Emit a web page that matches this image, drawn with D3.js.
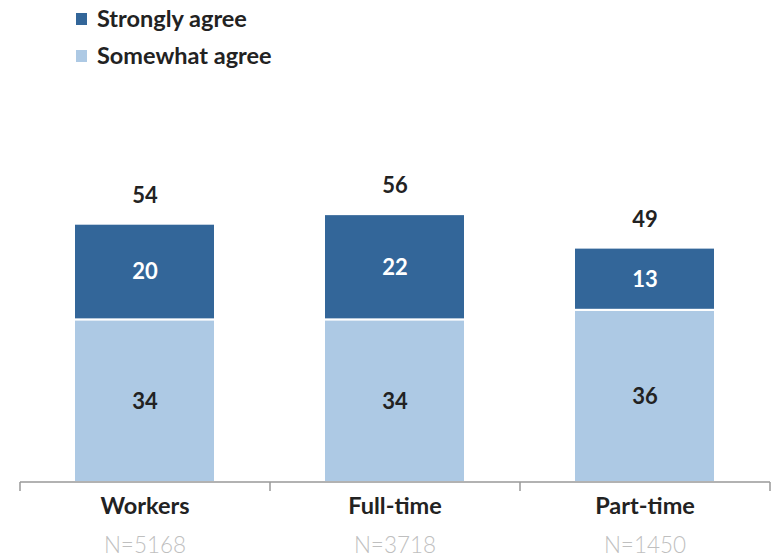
<!DOCTYPE html>
<html><head><meta charset="utf-8">
<script src="https://cdn.jsdelivr.net/npm/d3@7"></script>
<style>body{margin:0;background:#fff}svg{display:block}text{font-family:Lato,"Open Sans",sans-serif}</style>
</head><body><svg id="c" width="773" height="558"></svg>
<script>
const categories = ["Workers", "Full-time", "Part-time"];
const sampleSizes = ["N=5168", "N=3718", "N=1450"];
const somewhatAgree = [34, 34, 36];
const stronglyAgree = [20, 22, 13];
const totals = [54, 56, 49];
const seriesNames = ["Strongly agree", "Somewhat agree"];
const colors = {"Strongly agree": "#336699", "Somewhat agree": "#adc9e4"};

const svg = d3.select("#c");
const x = d3.scaleBand().domain(categories).range([20, 770]).paddingInner(0.44).paddingOuter(0.22);
const y = d3.scaleLinear().domain([0, 60]).range([482, 195]);

const rows = categories.map((c, i) => ({cat: c, "Somewhat agree": somewhatAgree[i], "Strongly agree": stronglyAgree[i]}));
const stack = d3.stack().keys(["Somewhat agree", "Strongly agree"])(rows);

svg.append("g").selectAll("g").data(stack).join("g")
  .attr("fill", d => colors[d.key])
  .selectAll("rect").data(d => d).join("rect")
  .attr("x", d => x(d.data.cat) - 1)
  .attr("width", x.bandwidth() + 1)
  .attr("y", d => y(d[1]))
  .attr("height", d => y(d[0]) - y(d[1]))
  .attr("stroke", "#fff").attr("stroke-width", 2);

// segment labels
stack.forEach(s => {
  svg.append("g").selectAll("text").data(s).join("text")
    .attr("x", d => x(d.data.cat) + x.bandwidth() / 2)
    .attr("y", d => (y(d[0]) + y(d[1])) / 2)
    .attr("dy", "0.36em")
    .attr("text-anchor", "middle")
    .attr("font-size", 22).attr("font-weight", "bold")
    .attr("fill", s.key === "Strongly agree" ? "#fff" : "#222")
    .text(d => d.data[s.key]);
});

// totals
svg.append("g").selectAll("text").data(categories).join("text")
  .attr("x", c => x(c) + x.bandwidth() / 2)
  .attr("y", (c, i) => y(totals[i]) - 29)
  .attr("dy", "0.36em").attr("text-anchor", "middle")
  .attr("font-size", 22).attr("font-weight", "bold").attr("fill", "#222")
  .text((c, i) => totals[i]);

// axis
const axis = svg.append("g").attr("transform", "translate(0,482)")
  .call(d3.axisBottom(x).tickSize(0).tickFormat(""));
axis.select(".domain").attr("stroke", "#999").attr("stroke-width", 1.5).attr("d", "M20,0H770");
const edges = [20, ...categories.slice(1).map(c => x(c) - x.step() * x.paddingInner() / 2), 770];
axis.selectAll(".edge").data(edges).join("line").attr("class", "edge")
  .attr("x1", d => d).attr("x2", d => d).attr("y1", 0).attr("y2", 9)
  .attr("stroke", "#999").attr("stroke-width", 1.5);

svg.append("g").selectAll("text").data(categories).join("text")
  .attr("x", c => x(c) + x.bandwidth() / 2).attr("y", 514)
  .attr("text-anchor", "middle").attr("font-size", 23.5).attr("font-weight", "bold").attr("fill", "#222")
  .text(c => c);
svg.append("g").selectAll("text").data(categories).join("text")
  .attr("x", c => x(c) + x.bandwidth() / 2).attr("y", 553)
  .attr("text-anchor", "middle").attr("font-size", 22.5).attr("font-weight", 300).attr("fill", "#bfbfbf")
  .text((c, i) => sampleSizes[i]);

// legend
const lg = svg.append("g").selectAll("g").data(seriesNames).join("g")
  .attr("transform", (d, i) => `translate(76,${13 + i * 37})`);
lg.append("rect").attr("width", 11).attr("height", 12).attr("fill", d => colors[d]);
lg.append("text").attr("x", 21).attr("y", 6).attr("dy", "0.36em")
  .attr("font-size", 23.5).attr("font-weight", "bold").attr("fill", "#222").text(d => d);
</script></body></html>
